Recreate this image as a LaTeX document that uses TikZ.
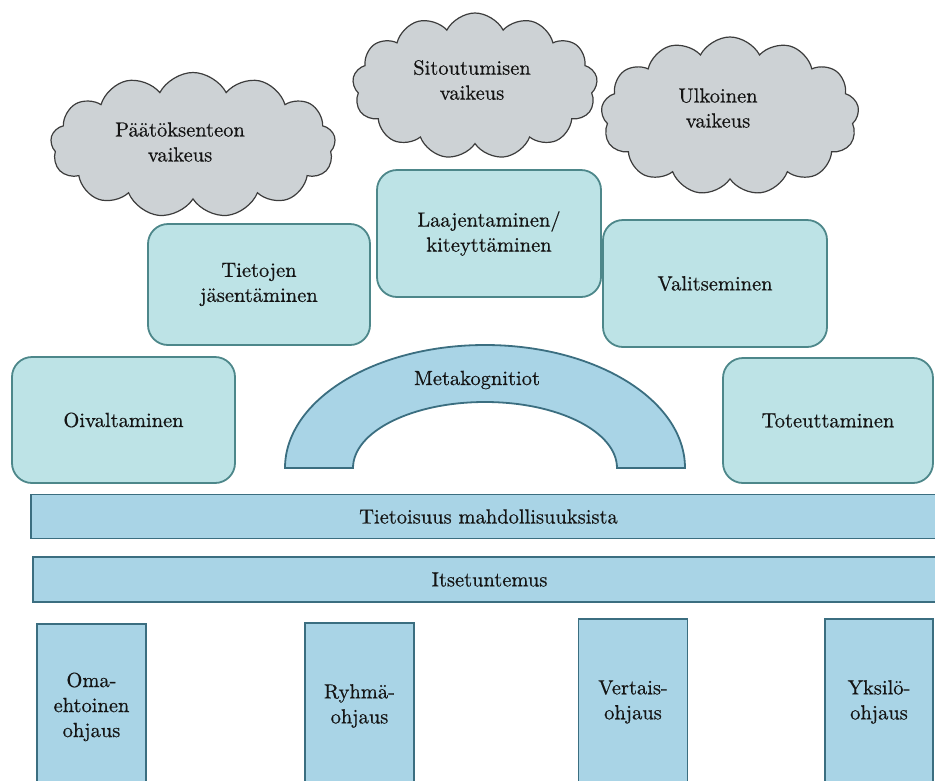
\documentclass[tikz,border=0pt]{standalone}
\usepackage{fontspec}
\setmainfont{lmroman10-regular}[Extension=.otf,FakeBold=0.5]
\usetikzlibrary{shapes.symbols}

\definecolor{cloudfill}{HTML}{CDD2D5}
\definecolor{cloudedge}{HTML}{3C3C3C}
\definecolor{phasefill}{HTML}{BDE3E6}
\definecolor{phaseedge}{HTML}{4D878A}
\definecolor{basefill}{HTML}{A9D4E6}
\definecolor{baseedge}{HTML}{3B6E80}
\colorlet{textcol}{black!92}

\tikzstyle{txt}=[text=textcol,font=\fontsize{20.5}{25}\selectfont,align=center]
\tikzstyle{worry}=[cloud,cloud puffs=13,cloud puff arc=125,draw=cloudedge,fill=cloudfill,line width=1.2,inner sep=0]
\tikzstyle{phase}=[txt,draw=phaseedge,fill=phasefill,line width=1.8,rounded corners=20,inner sep=0]
\tikzstyle{base}=[txt,draw=baseedge,fill=basefill,line width=1.8,inner sep=0]
\tikzstyle{pillar}=[base,minimum width=109,minimum height=166,anchor=north]

\begin{document}
\begin{tikzpicture}[x=1pt,y=-1pt]
  \useasboundingbox (0,0) rectangle (935,780);

  % CLOUDS
  \node[worry,minimum width=285,minimum height=145] (hard1) at (193,145) {};
  \node[txt] (hard1txt) at (180,142) {Päätöksenteon\\vaikeus};
  \node[worry,minimum width=245,minimum height=146] (hard2) at (475,86) {};
  \node[txt] (hard2txt) at (472,80) {Sitoutumisen\\vaikeus};
  \node[worry,minimum width=258,minimum height=158] (hard3) at (730,116) {};
  \node[txt] (hard3txt) at (718,108) {Ulkoinen\\vaikeus};

  % PHASES
  \node[phase,minimum width=223,minimum height=126] (insight) at (123.5,420) {Oivaltaminen};
  \node[phase,minimum width=222,minimum height=121] (sort)    at (259,284.5) {Tietojen\\jäsentäminen};
  \node[phase,minimum width=224,minimum height=127] (widen)   at (489,233.5) {Laajentaminen/\\kiteyttäminen};
  \node[phase,minimum width=224,minimum height=127] (choose)  at (715,283.5) {Valitseminen};
  \node[phase,minimum width=210,minimum height=125] (act)     at (828,420.5) {Toteuttaminen};

  % ARCH
  \coordinate (archL) at (285,468);
  \coordinate (archR) at (617,468);
  \draw[draw=baseedge,fill=basefill,line width=1.8]
    (archL) arc[start angle=180,end angle=360,x radius=200,y radius=123]
    -- (archR) arc[start angle=0,end angle=-180,x radius=132,y radius=66] -- cycle;
  \node[txt] (meta) at (477,380) {Metakognitiot};

  % BARS
  \node[base,minimum width=915,minimum height=44] (aware) at (488.5,516.5) {Tietoisuus mahdollisuuksista};
  \node[base,minimum width=913,minimum height=45] (self)  at (489.5,579.5) {Itsetuntemus};

  % PILLARS
  \node[pillar] (own)   at (91.5,623) {Oma-\\ehtoinen\\ohjaus};
  \node[pillar] (group) at (359.5,622) {Ryhmä-\\ohjaus};
  \node[pillar] (peer)  at (633,618) {Vertais-\\ohjaus};
  \node[pillar,minimum width=108] (solo) at (879,618) {Yksilö-\\ohjaus};

\end{tikzpicture}
\end{document}
